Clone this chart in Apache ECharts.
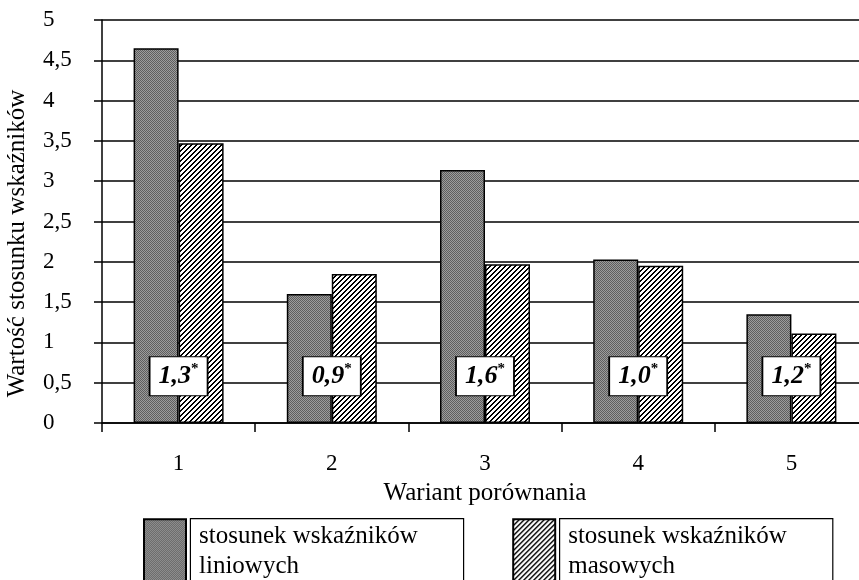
<!doctype html>
<html lang="pl">
  <head>
    <meta charset="UTF-8" />
    <title>Wariant porównania</title>
    <script src="https://cdn.jsdelivr.net/npm/echarts@6/dist/echarts.min.js"></script>
    <style>
      html, body { margin: 0; padding: 0; background: #fff; }
      #chart { width: 859px; height: 580px; }
    </style>
  </head>
  <body>
    <div id="chart"></div>
    <script>
      // Data
      var categories = ['1', '2', '3', '4', '5'];
      var liniowe = [4.65, 1.6, 3.14, 2.03, 1.35];
      var masowe = [3.47, 1.85, 1.97, 1.95, 1.11];
      var ratioLabels = ['1,3', '0,9', '1,6', '1,0', '1,2'];
      var ratioBoxLevel = 0.58;

      var serif = 'Liberation Serif';

      // fine grey dotted fill
      function dotPattern() {
        var c = document.createElement('canvas');
        c.width = 2; c.height = 2;
        var g = c.getContext('2d');
        g.fillStyle = '#9c9c9c'; g.fillRect(0, 0, 2, 2);
        g.fillStyle = '#5e5e5e'; g.fillRect(0, 0, 1, 1); g.fillRect(1, 1, 1, 1);
        return { image: c, repeat: 'repeat' };
      }
      // black "/" hatching
      function hatchPattern() {
        var c = document.createElement('canvas');
        c.width = 5; c.height = 5;
        var g = c.getContext('2d');
        g.fillStyle = '#fff'; g.fillRect(0, 0, 5, 5);
        g.fillStyle = '#000';
        for (var y = 0; y < 5; y++) {
          for (var x = 0; x < 5; x++) {
            if ((x + y) % 5 < 2) g.fillRect(x, y, 1, 1);
          }
        }
        return { image: c, repeat: 'repeat' };
      }

      var boxData = ratioLabels.map(function (t, i) {
        return { value: [categories[i], ratioBoxLevel], text: t };
      });

      var chart = echarts.init(document.getElementById('chart'), null, { renderer: 'canvas' });
      chart.setOption({
        animation: false,
        textStyle: { fontFamily: serif, color: '#000' },
        grid: { left: 102, width: 766, top: 20, bottom: 157, containLabel: false, outerBoundsMode: 'none' },
        legend: {
          data: ['stosunek wskaźników\nliniowych', 'stosunek wskaźników\nmasowych'],
          left: 143,
          top: 518,
          padding: 0,
          itemWidth: 42,
          itemHeight: 64,
          itemGap: 48,
          selectedMode: false,
          icon: 'rect',
          textStyle: {
            fontFamily: serif,
            fontSize: 25,
            color: '#000',
            lineHeight: 30,
            width: 256,
            height: 60,
            padding: [0, 8, 4, 8],
            borderColor: '#000',
            borderWidth: 1.2,
            backgroundColor: '#fff'
          }
        },
        xAxis: {
          type: 'category',
          data: categories,
          name: 'Wariant porównania',
          nameLocation: 'middle',
          nameGap: 58,
          nameTextStyle: { fontFamily: serif, fontSize: 25, color: '#000' },
          axisLine: { lineStyle: { color: '#000', width: 1.5 } },
          axisTick: { show: true, length: 9, lineStyle: { color: '#000', width: 1.5 } },
          axisLabel: { fontFamily: serif, fontSize: 23, color: '#000', margin: 29 },
          splitLine: { show: false }
        },
        yAxis: {
          type: 'value',
          min: 0,
          max: 5,
          interval: 0.5,
          name: 'Wartość stosunku wskaźników',
          nameLocation: 'middle',
          nameGap: 72,
          nameTextStyle: { fontFamily: serif, fontSize: 25, color: '#000', padding: [0, 44, 0, 0] },
          axisLine: { show: true, lineStyle: { color: '#000', width: 1.5 } },
          axisTick: { show: true, length: 8, lineStyle: { color: '#000', width: 1.5 } },
          axisLabel: {
            fontFamily: serif,
            fontSize: 23,
            color: '#000',
            align: 'left',
            margin: 59,
            formatter: function (v) { return String(v).replace('.', ','); }
          },
          splitLine: { show: true, lineStyle: { color: '#000', width: 1.5 } }
        },
        series: [
          {
            name: 'stosunek wskaźników\nliniowych',
            type: 'bar',
            data: liniowe,
            barWidth: 45,
            barGap: '0%',
            itemStyle: { color: dotPattern(), borderColor: '#000', borderWidth: 1.5 },
            emphasis: { disabled: true }
          },
          {
            name: 'stosunek wskaźników\nmasowych',
            type: 'bar',
            data: masowe,
            barWidth: 45,
            barGap: '0%',
            itemStyle: { color: hatchPattern(), borderColor: '#000', borderWidth: 1.5 },
            emphasis: { disabled: true }
          },
          {
            name: 'ratio',
            type: 'scatter',
            data: boxData,
            symbol: 'rect',
            symbolSize: [58, 39],
            z: 5,
            itemStyle: { color: '#fff', borderColor: '#000', borderWidth: 1.5, opacity: 1 },
            emphasis: { disabled: true },
            label: {
              show: true,
              position: 'inside',
              formatter: function (p) { return '{v|' + p.data.text + '}{s|*}'; },
              rich: {
                v: { fontFamily: serif, fontSize: 26, fontWeight: 'bold', fontStyle: 'italic', color: '#000', lineHeight: 30 },
                s: { fontFamily: serif, fontSize: 15, fontWeight: 'bold', color: '#000', verticalAlign: 'top', lineHeight: 15 }
              }
            }
          }
        ]
      });
    </script>
  </body>
</html>
